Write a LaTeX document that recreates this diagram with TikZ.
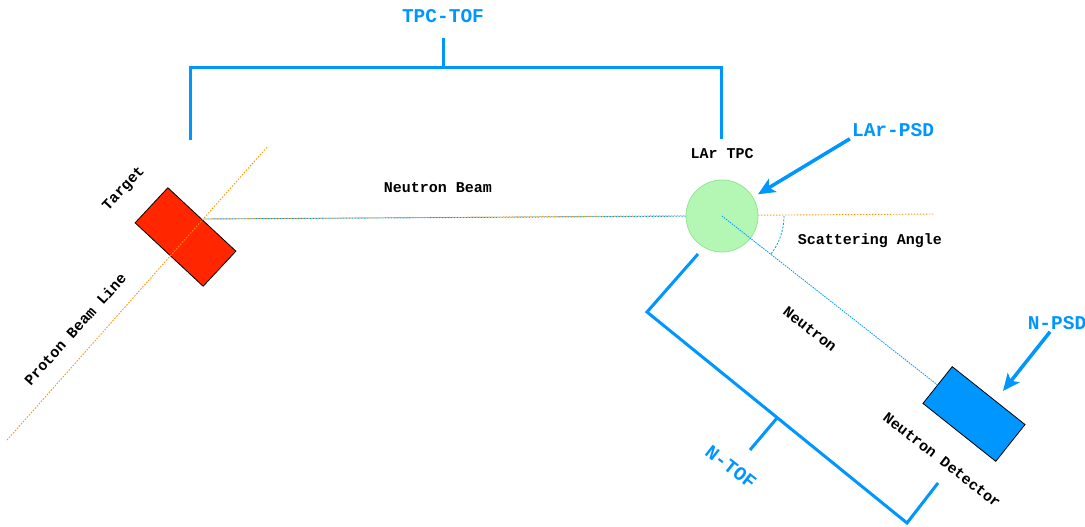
\documentclass[tikz,border=0pt]{standalone}
\usepackage{fontspec}
\setmainfont{Liberation Mono}
\usetikzlibrary{arrows.meta,backgrounds,calc}
\definecolor{cblue}{RGB}{0,150,255}
\definecolor{cred}{RGB}{255,38,0}
\definecolor{cgreenf}{RGB}{180,246,180}
\definecolor{cgreend}{RGB}{145,232,145}
\definecolor{corange}{RGB}{255,147,0}
\begin{document}
\begin{tikzpicture}[x=1pt,y=-1pt,
  lbl/.style={font=\bfseries\fontsize{15}{18}\selectfont, text=black, inner sep=2pt},
  blbl/.style={font=\bfseries\fontsize{19.5}{22}\selectfont, text=cblue, inner sep=2pt},
  bracket/.style={draw=cblue, line width=3pt},
  arr/.style={draw=cblue, line width=3.5pt, -{Stealth[length=17pt,width=15pt,inset=4pt]}},
  orangedot/.style={draw=corange, line width=0.9pt, dash pattern=on 1.5pt off 1.5pt},
  bluedot/.style={draw=cblue, line width=0.9pt, dash pattern=on 1.5pt off 1.5pt},
  box/.style={draw=black, line width=0.8pt, minimum width=93pt, minimum height=48pt, inner sep=0pt, outer sep=0pt},
]
\useasboundingbox (0,0) rectangle (1085,527);

% main objects
\node[box, fill=cred, rotate=-43] (tgt) at (185.5,237) {};
\node[circle, fill=cgreenf, draw=cgreend, line width=0.8pt, minimum size=72pt, inner sep=0pt, outer sep=0pt] (tpc) at (722,216) {};
\node[box, fill=cblue, minimum height=47pt, rotate=-38.5] (ndet) at (974,414) {};

% labels
\node[blbl] (tpctof) at (443,16) {TPC-TOF};
\node[blbl] (lpsd) at (893,130) {LAr-PSD};
\node[blbl] (npsd) at (1057,323) {N-PSD};
\node[blbl, rotate=-38] (ntof) at (731,467) {N-TOF};
\node[lbl] (lartpc) at (722,154) {LAr TPC};
\node[lbl] (nbeam) at (438,188) {Neutron Beam};
\node[lbl] (scat) at (870,241) {Scattering Angle};
\node[lbl, rotate=47] (target) at (124,189) {Target};
\node[lbl, rotate=48] (pbl) at (75,329) {Proton Beam Line};
\node[lbl, rotate=-38] (neutron) at (810,329) {Neutron};
\node[lbl, rotate=-38] (ndetlbl) at (942,460) {Neutron Detector};

% coordinates
\coordinate (beamstart) at (203,219);
\coordinate (beamend) at (935,214);
\coordinate (pbA) at (7,440);
\coordinate (pbB) at (268,146);

% beams behind the circle
\begin{pgfonlayer}{background}
\draw[orangedot] (beamstart) -- (beamend);
\draw[bluedot, dash phase=1.5pt] (beamstart) -- (tpc);
\end{pgfonlayer}

% proton beam line over target
\draw[orangedot] (pbA) -- (pbB);

% scattered neutron path and angle
\draw[draw=cblue, line width=0.8pt, dash pattern=on 1.5pt off 1pt] (tpc.center) -- (ndet.west);
\draw[draw=cblue, line width=0.8pt, dash pattern=on 2pt off 1.5pt] ($(tpc.center)+(62,0)$) arc[start angle=0, end angle=38, radius=62];

% TPC-TOF bracket
\coordinate (tl) at (190,68);
\coordinate (tr) at (721,68);
\draw[bracket] (190,140) -- (tl) -- (tr) -- (721,139);
\draw[bracket] (443,68) -- (443,38);

% N-TOF bracket
\coordinate (nA) at (698,254);
\coordinate (nB) at (647,312);
\coordinate (nC) at (907,523);
\coordinate (nD) at (938,483);
\draw[bracket] (nA) -- (nB) -- (nC) -- (nD);
\draw[bracket] (777,418) -- (750,450);

% PSD arrows
\draw[arr, shorten >=6pt] (lpsd.south west) -- (tpc);
\coordinate (npsdtip) at (1003,391);
\draw[arr] (npsd) -- (npsdtip);
\end{tikzpicture}
\end{document}
